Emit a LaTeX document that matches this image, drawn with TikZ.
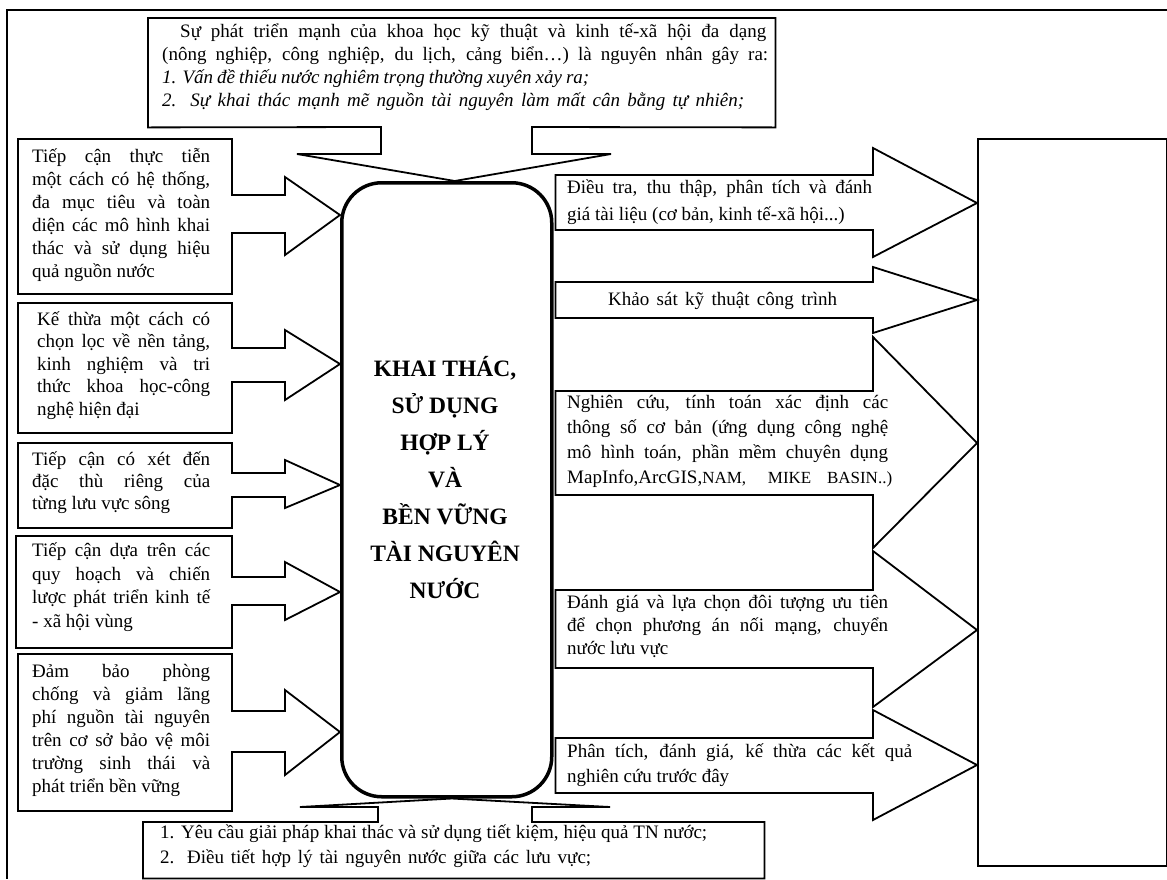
\documentclass[tikz,border=0pt]{standalone}
\usepackage{fontspec}
\setmainfont{Liberation Serif}
\usetikzlibrary{calc}
\newcommand\jl[2]{\makebox[#1pt][s]{#2}}
\newcommand\larrow[6]{%
  \fill[white] ($(#1.east |- 0,#2)+(-1.4,1.2)$) rectangle ($(#1.east |- 0,#3)+(1.4,-1.2)$);
  \draw[blk] (#1.east |- 0,#2) -- (285,#2) -- (285,#4) -- (core.west |- 0,#6) -- (285,#5) -- (285,#3) -- (#1.east |- 0,#3);}
\newcommand\rarrow[6]{%
  \draw[blk] ($(core.east |- 0,#2)+(2,0)$) -- (873,#2) -- (873,#4) -- (#1.west |- 0,#6) -- (873,#5) -- (873,#3) -- ($(core.east |- 0,#3)+(2,0)$) -- cycle;}
\begin{document}
\begin{tikzpicture}[x=1pt,y=-1pt,
  box/.style={draw, line width=1.8pt, inner sep=0pt, anchor=north west},
  blk/.style={draw, line width=1.8pt, line join=miter},
  txt/.style={font=\fontsize{19}{23}\selectfont, inner sep=0pt, anchor=base west, align=left},
  ctr/.style={font=\fontsize{23.5}{37}\selectfont\bfseries, inner sep=0pt, anchor=base, align=center}]
\useasboundingbox (0,0) rectangle (1167,879);
\fill[white] (0,0) rectangle (1167,879);
% outer frame
\draw[line width=1.8pt] (1167,10) -- (7,10) -- (7,879);
% left boxes
\node[box, minimum width=214pt, minimum height=155pt] (b1) at (17,138) {};
\node[box, minimum width=214pt, minimum height=130pt] (b2) at (17,302) {};
\node[box, minimum width=214pt, minimum height=85pt] (b3) at (17,442) {};
\node[box, minimum width=216pt, minimum height=112pt] (b4) at (15,535) {};
\node[box, minimum width=214pt, minimum height=157pt] (b5) at (17,653) {};
% right box
\node[box, minimum width=189pt, minimum height=727pt] (rbox) at (977,138) {};
% core
\node[draw, line width=3.5pt, rounded corners=40pt, minimum width=210pt, minimum height=614pt, anchor=north west, inner sep=0pt] (core) at (340,181) {};
% top callout
\node[inner sep=0pt, minimum width=627pt, minimum height=109pt, anchor=north west] (topb) at (148,18) {};
\draw[blk] (topb.north west) -- (topb.north east) -- (topb.south east) -- (532,127) -- (532,154) -- (611,154) -- ($(core.north)+(8,0)$) -- (297,154) -- (381,154) -- (381,127) -- (topb.south west) -- cycle;
% bottom callout
\node[inner sep=0pt, minimum width=621pt, minimum height=56pt, anchor=north west] (botb) at (143,822) {};
\draw[blk] (botb.north west) -- (378,822) -- (378,807) -- (300,807) -- ($(core.south)+(5,0)$) -- (610,807) -- (532,807) -- (532,822) -- (botb.north east) -- (botb.south east) -- (botb.south west) -- cycle;
% left arrows: box, shaft top, shaft bottom, head top, head bottom, tip
\larrow{b1}{195}{233}{177}{255}{215}
\larrow{b2}{348}{382}{330}{400}{364}
\larrow{b3}{473}{497}{460}{508}{485}
\larrow{b4}{577}{605}{562}{620}{592}
\larrow{b5}{711}{752}{690}{775}{732}
% right arrows: target, shaft top, shaft bottom, head top, head bottom, tip
\rarrow{rbox}{175}{230}{148}{257}{203}
\rarrow{rbox}{282}{318}{267}{333}{300}
\rarrow{rbox}{391}{495}{337}{548}{443}
\rarrow{rbox}{590}{668}{551}{707}{630}
\rarrow{rbox}{738}{793}{710}{820}{765}
% texts (anchor = baseline of the last line)
\node[txt] (ttop) at (162,106) {\hspace*{18pt}\jl{586}{Sự phát triển mạnh của khoa học kỹ thuật và kinh tế-xã hội đa dạng}\\
  \jl{606}{(nông nghiệp, công nghiệp, du lịch, cảng biển…) là nguyên nhân gây ra:}\\
  \jl{427}{\itshape 1. Vấn đề thiếu nước nghiêm trọng thường xuyên xảy ra;}\\
  \jl{582}{\itshape 2. Sự khai thác mạnh mẽ nguồn tài nguyên làm mất cân bằng tự nhiên;}};
\node[txt] (t1) at (32,277) {\jl{178}{Tiếp cận thực tiễn}\\ \jl{178}{một cách có hệ thống,}\\ \jl{178}{đa mục tiêu và toàn}\\ \jl{178}{diện các mô hình khai}\\ \jl{178}{thác và sử dụng hiệu}\\ quả nguồn nước};
\node[txt, font=\fontsize{19}{22.5}\selectfont] (t2) at (37,415) {\jl{173}{Kế thừa một cách có}\\ \jl{173}{chọn lọc về nền tảng,}\\ \jl{173}{kinh nghiệm và tri}\\ \jl{173}{thức khoa học-công}\\ nghệ hiện đại};
\node[txt, font=\fontsize{19}{22}\selectfont] (t3) at (32,509) {\jl{178}{Tiếp cận có xét đến}\\ \jl{178}{đặc thù riêng của}\\ từng lưu vực sông};
\node[txt, font=\fontsize{19}{23.5}\selectfont] (t4) at (32,627) {\jl{178}{Tiếp cận dựa trên các}\\ \jl{178}{quy hoạch và chiến}\\ \jl{178}{lược phát triển kinh tế}\\ - xã hội vùng};
\node[txt] (t5) at (32,792) {\jl{178}{Đảm bảo phòng}\\ \jl{178}{chống và giảm lãng}\\ \jl{178}{phí nguồn tài nguyên}\\ \jl{178}{trên cơ sở bảo vệ môi}\\ \jl{178}{trường sinh thái và}\\ phát triển bền vững};
\node[ctr] (tc) at (445,598) {KHAI THÁC,\\SỬ DỤNG\\HỢP LÝ\\VÀ\\BỀN VỮNG\\TÀI NGUYÊN\\NƯỚC};
\node[txt, font=\fontsize{19}{27}\selectfont] (r1) at (567,220) {\jl{305}{Điều tra, thu thập, phân tích và đánh}\\ giá tài liệu (cơ bản, kinh tế-xã hội...)};
\node[txt] (r2) at (608,305) {\jl{229}{Khảo sát kỹ thuật công trình}};
\node[txt, font=\fontsize{19}{25}\selectfont] (r3) at (567,483) {\jl{321}{Nghiên cứu, tính toán xác định các}\\ \jl{321}{thông số cơ bản (ứng dụng công nghệ}\\ \jl{321}{mô hình toán, phần mềm chuyên dụng}\\ \jl{325}{MapInfo,ArcGIS,{\fontsize{17}{25}\selectfont NAM,\hspace{6pt} MIKE BASIN..)}}};
\node[txt] (r4) at (567,654) {\jl{321}{Đánh giá và lựa chọn đôi tượng ưu tiên}\\ \jl{321}{để chọn phương án nối mạng, chuyển}\\ nước lưu vực};
\node[txt, font=\fontsize{19}{25}\selectfont] (r5) at (567,782) {\jl{345}{Phân tích, đánh giá, kế thừa các kết quả}\\ nghiên cứu trước đây};
\node[txt, font=\fontsize{19}{25}\selectfont] (tb) at (160,863) {\jl{547}{1. Yêu cầu giải pháp khai thác và sử dụng tiết kiệm, hiệu quả TN nước;}\\ \jl{431}{2. Điều tiết hợp lý tài nguyên nước giữa các lưu vực;}};
\end{tikzpicture}
\end{document}
